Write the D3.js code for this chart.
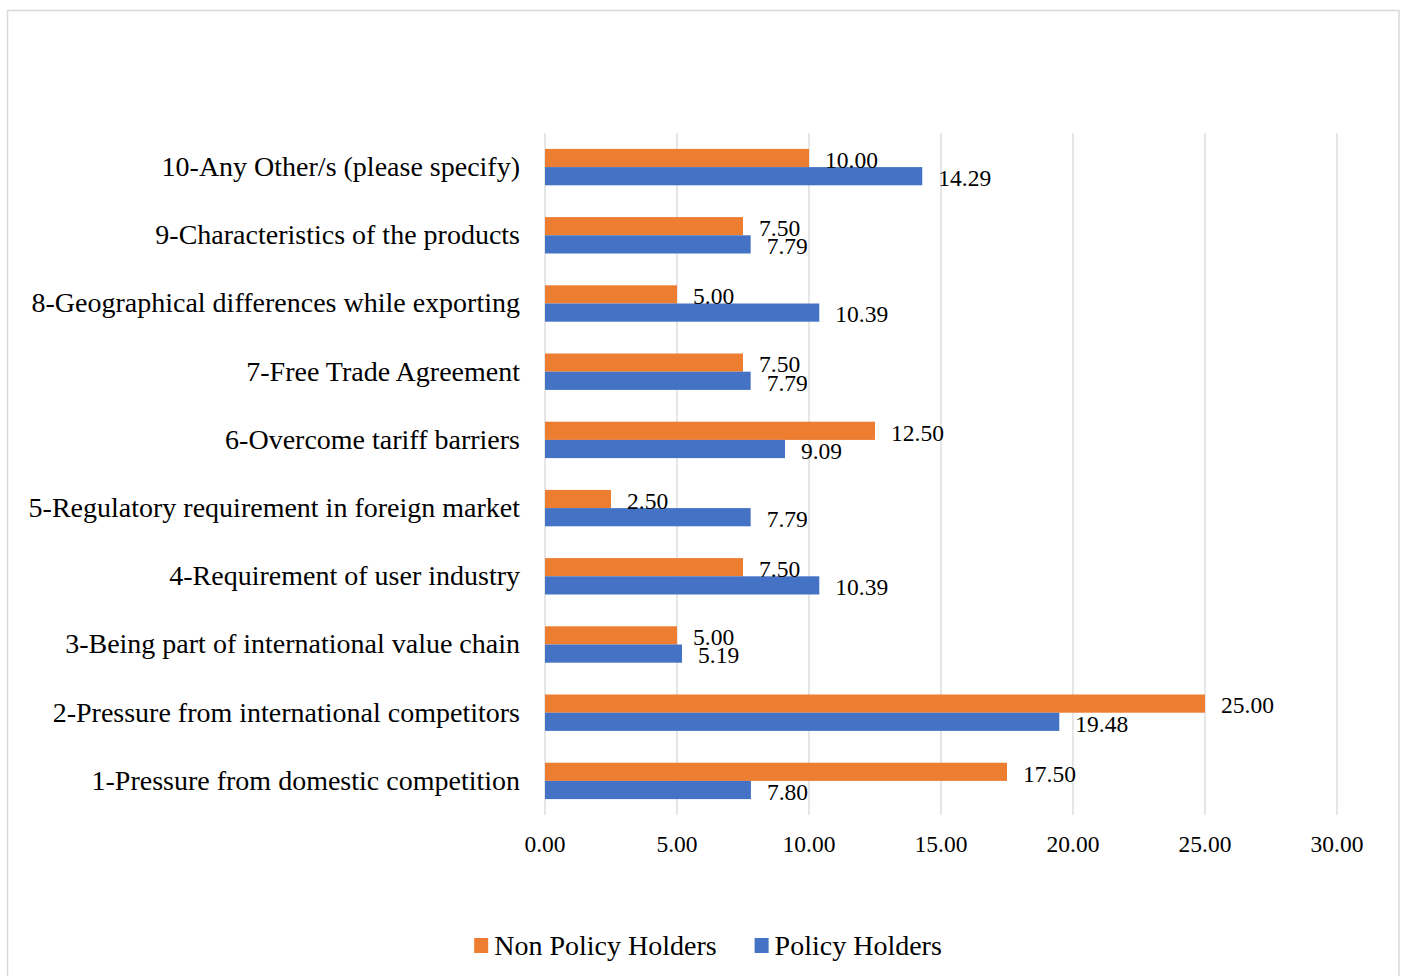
<!DOCTYPE html>
<html>
<head>
<meta charset="utf-8">
<script src="https://cdn.jsdelivr.net/npm/d3@7/dist/d3.min.js"></script>
<style>
  html, body { margin: 0; padding: 0; background: #fff; }
  svg { display: block; }
  text { font-family: "Liberation Serif", "Times New Roman", serif; fill: #000; }
</style>
</head>
<body>
<svg id="chart" width="1402" height="976"></svg>
<script>
const categories = [
  "1-Pressure from domestic competition",
  "2-Pressure from international competitors",
  "3-Being part of international value chain",
  "4-Requirement of user industry",
  "5-Regulatory requirement in foreign market",
  "6-Overcome tariff barriers",
  "7-Free Trade Agreement",
  "8-Geographical differences while exporting",
  "9-Characteristics of the products",
  "10-Any Other/s (please specify)"
];
const nonPolicyHolders = [17.50, 25.00, 5.00, 7.50, 2.50, 12.50, 7.50, 5.00, 7.50, 10.00];
const policyHolders    = [7.80, 19.48, 5.19, 10.39, 7.79, 9.09, 7.79, 10.39, 7.79, 14.29];
const seriesNames = ["Non Policy Holders", "Policy Holders"];
const seriesColors = ["#ED7D31", "#4472C4"];
const xTicks = [0, 5, 10, 15, 20, 25, 30];

const svg = d3.select("#chart");
const valueFont = 23.5;
const catFont = 28;
const legendFont = 28;

// chart border
svg.append("rect")
  .attr("x", 7.5).attr("y", 10.5).attr("width", 1391.5).attr("height", 1000)
  .attr("fill", "none").attr("stroke", "#d9d9d9").attr("stroke-width", 1.5);

const x = d3.scaleLinear().domain([0, 30]).range([545, 1337]);
const y = d3.scaleBand().domain(categories.slice().reverse()).range([133, 815]).padding(0);
const ySub = d3.scaleBand().domain(seriesNames).range([0, y.bandwidth()]).paddingInner(0).paddingOuter(0.874);

// gridlines
svg.append("g").selectAll("line").data(xTicks).join("line")
  .attr("x1", d => x(d)).attr("x2", d => x(d))
  .attr("y1", 133).attr("y2", 815)
  .attr("stroke", "#d9d9d9").attr("stroke-width", 1.3);

// x tick labels
svg.append("g").selectAll("text").data(xTicks).join("text")
  .attr("x", d => x(d)).attr("y", 852)
  .attr("text-anchor", "middle")
  .style("font-size", valueFont + "px")
  .text(d => d.toFixed(2));

// category labels
svg.append("g").selectAll("text").data(categories).join("text")
  .attr("x", 520).attr("y", d => y(d) + y.bandwidth() / 2)
  .attr("dy", "0.32em")
  .attr("text-anchor", "end")
  .style("font-size", catFont + "px")
  .text(d => d);

const rows = categories.map((c, i) => ({ c, vals: [nonPolicyHolders[i], policyHolders[i]] }));

const groups = svg.append("g").selectAll("g").data(rows).join("g")
  .attr("transform", d => `translate(0,${y(d.c)})`);

groups.selectAll("rect").data(d => d.vals.map((v, j) => ({ v, s: seriesNames[j], j }))).join("rect")
  .attr("x", x(0))
  .attr("y", d => ySub(d.s))
  .attr("width", d => x(d.v) - x(0))
  .attr("height", ySub.bandwidth())
  .attr("fill", d => seriesColors[d.j]);

groups.selectAll("text").data(d => d.vals.map((v, j) => ({ v, s: seriesNames[j], j }))).join("text")
  .attr("x", d => x(d.v) + 16)
  .attr("y", d => ySub(d.s) + ySub.bandwidth() / 2 + 1.5)
  .attr("dy", "0.35em")
  .style("font-size", valueFont + "px")
  .text(d => d.v.toFixed(2));

// legend
const legend = svg.append("g");
let lx = 0;
seriesNames.forEach((name, i) => {
  const g = legend.append("g");
  g.append("rect").attr("x", 0).attr("y", -8).attr("width", 14).attr("height", 15).attr("fill", seriesColors[i]);
  const t = g.append("text").attr("x", 20).attr("y", 0).attr("dy", "0.33em")
    .style("font-size", legendFont + "px").text(name);
  const w = 20 + t.node().getComputedTextLength();
  g.attr("transform", `translate(${lx},0)`);
  lx += w + 38;
});
const totalW = lx - 38;
legend.attr("transform", `translate(${708 - totalW / 2},946)`);
</script>
</body>
</html>
